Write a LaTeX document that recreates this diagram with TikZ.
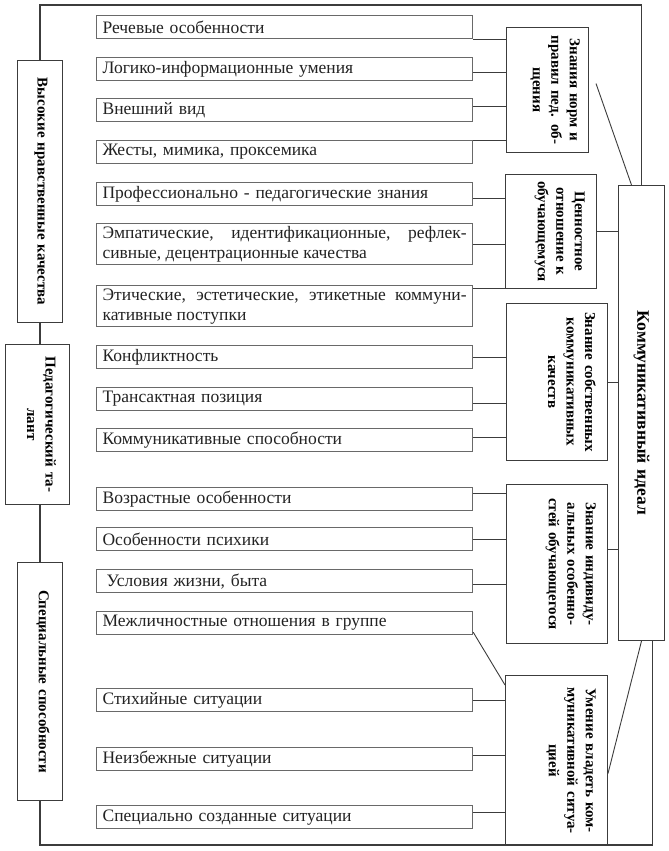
\documentclass[tikz,border=0pt]{standalone}
\usepackage{fontspec}
\setmainfont{Liberation Serif}
\usetikzlibrary{positioning,calc}
\definecolor{linegray}{RGB}{60,60,60}
\definecolor{itemgray}{RGB}{105,105,105}
\definecolor{txtgray}{RGB}{35,35,35}
\newcommand\itmfont{\fontsize{17.5}{20}\selectfont}
\newcommand\vbfont{\fontsize{15}{18.5}\selectfont\bfseries}
\newcommand\idlfont{\fontsize{17.5}{22}\selectfont\bfseries}
\tikzset{
  itembox/.style={draw=itemgray, line width=1.2pt, anchor=north west, minimum height=23pt,
                  text width=364pt, inner xsep=6pt, inner ysep=1pt, align=left,
                  font=\itmfont, text=txtgray},
  itembox2/.style={itembox, minimum height=41pt, align=justify},
  vbox/.style={draw=linegray, line width=1pt, anchor=north west},
  vtext/.style={rotate=-90, text width=250pt, align=center, font=\vbfont, inner sep=2pt, text=black},
  conn/.style={draw=linegray, line width=0.9pt},
  frame/.style={draw=linegray, line width=1.1pt},
}

\begin{document}
\begin{tikzpicture}[x=1pt, y=-1pt]
  \useasboundingbox[fill=white] (0,0) rectangle (669,851);
  % left column
  \node[vbox, minimum width=45pt, minimum height=262pt] (hk) at (17,60) {};
  \node[vbox, minimum width=64pt, minimum height=160pt] (pt) at (5,344) {};
  \node[vbox, minimum width=45pt, minimum height=238pt] (sp) at (17,562) {};
  \node[vtext] (hkt) at ([xshift=1pt]hk.center) {Высокие нравственные качества};
  \node[vtext] (ptt) at ([xshift=4pt]pt.center) {Педагогический та-\\лант};
  \node[vtext] (spt) at ([xshift=3pt]sp.center) {Специальные способности};

  % items
  \node[itembox] (i1) at (96,15) {Речевые особенности};
  \node[itembox] (i2) at (96,57) {Логико-информационные умения};
  \node[itembox] (i3) at (96,98) {Внешний вид};
  \node[itembox] (i4) at (96,140) {Жесты, мимика, проксемика};
  \node[itembox] (i5) at (96,182) {Профессионально - педагогические знания};
  \node[itembox2] (i6) at (96,223) {Эмпатические, идентификационные, рефлек-\linebreak сивные, децентрационные качества};
  \node[itembox2] (i7) at (96,285) {Этические, эстетические, этикетные коммуни-\linebreak кативные поступки};
  \node[itembox] (i8) at (96,345) {Конфликтность};
  \node[itembox] (i9) at (96,387) {Трансактная позиция};
  \node[itembox] (i10) at (96,428) {Коммуникативные способности};
  \node[itembox] (i11) at (96,487) {Возрастные особенности};
  \node[itembox] (i12) at (96,527) {Особенности психики};
  \node[itembox] (i13) at (96,569) {\hspace{4pt}Условия жизни, быта};
  \node[itembox] (i14) at (96,611) {Межличностные отношения в группе};
  \node[itembox] (i15) at (96,688) {Стихийные ситуации};
  \node[itembox] (i16) at (96,747) {Неизбежные ситуации};
  \node[itembox] (i17) at (96,805) {Специально созданные ситуации};

  % middle column
  \node[vbox, minimum width=82pt, minimum height=125pt] (nb) at (506,27) {};
  \node[vbox, minimum width=91pt, minimum height=114pt] (cen) at (505,174) {};
  \node[vbox, minimum width=101pt, minimum height=157pt] (sob) at (506,303) {};
  \node[vbox, minimum width=101pt, minimum height=159pt] (ind) at (506,484) {};
  \node[vbox, minimum width=102pt, minimum height=170pt] (um) at (505,675) {};
  \node[vtext, anchor=north] (nbt) at ([xshift=-7pt]nb.east) {Знания норм и\\правил пед. об-\\щения};
  \node[vtext, anchor=north] (cent) at ([xshift=-10pt]cen.east) {Ценностное\\отношение к\\обучающемуся};
  \node[vtext, anchor=north] (sobt) at ([xshift=-10pt]sob.east) {Знание собственных\\коммуникативных\\качеств};
  \node[vtext, anchor=north] (indt) at ([xshift=-10pt]ind.east) {Знание индивиду-\\альных особенно-\\стей обучающегося};
  \node[vtext, anchor=north] (umt) at ([xshift=-10pt]um.east) {Умение владеть ком-\\муникативной ситуа-\\цией};

  % right column
  \node[vbox, minimum width=46pt, minimum height=455pt] (ideal) at (618,185) {};
  \node[vtext, font=\idlfont] (idt) at (ideal.center) {Коммуникативный идеал};

  % item links
  \draw[conn] (i1.south east) -- (i1.south east -| nb.west);
  \draw[conn] ([yshift=-3.5pt]i2.east) -- ([yshift=-3.5pt]i2.east -| nb.west);
  \draw[conn] ([yshift=4pt]i3.east) -- ([yshift=4pt]i3.east -| nb.west);
  \draw[conn] (i4.north east) -- (i4.north east -| nb.west);
  \draw[conn] ([yshift=-4pt]i5.east) -- ([yshift=-4pt]i5.east -| cen.west);
  \draw[conn] (i6.east) -- (i6.east -| cen.west);
  \draw[conn] ([yshift=-3pt]i7.north east) -- ([yshift=-3pt]i7.north east -| cen.west);
  \draw[conn] (i8.east) -- (i8.east -| sob.west);
  \draw[conn] ([yshift=-4pt]i9.east) -- ([yshift=-4pt]i9.east -| sob.west);
  \draw[conn] ([yshift=3pt]i10.east) -- ([yshift=3pt]i10.east -| sob.west);
  \draw[conn] ([yshift=5.5pt]i11.east) -- ([yshift=5.5pt]i11.east -| ind.west);
  \draw[conn] (i12.east) -- (i12.east -| ind.west);
  \draw[conn] ([yshift=-3pt]i13.east) -- ([yshift=-3pt]i13.east -| ind.west);
  \draw[conn] ([yshift=3pt]i14.south east) -- ([yshift=-10pt]um.north west);
  \draw[conn] (i15.east) -- (i15.east -| um.west);
  \draw[conn] ([yshift=4pt]i16.east) -- ([yshift=4pt]i16.east -| um.west);
  \draw[conn] ([yshift=4.5pt]i17.east) -- ([yshift=4.5pt]i17.east -| um.west);

  % middle to ideal
  \draw[conn] (cen.east) -- (cen.east -| ideal.west);
  \draw[conn] (sob.east) -- (sob.east -| ideal.west);
  \draw[conn] ([yshift=14.5pt]ind.east) -- ([yshift=14.5pt]ind.east -| ideal.west);
  \draw[conn] ([shift={(7pt,6.5pt)}]nb.east) -- ([xshift=-10pt]ideal.north);
  \draw[conn] (ideal.south) -- ([yshift=-13pt]um.east);

  % outer frame
  \coordinate (top) at (0,5);
  \coordinate (bot) at (0,845);
  \draw[frame] (hk.north) -- (hk.north |- top) -| (ideal.north);
  \draw[frame] (hk.south) -- (hk.south |- pt.north);
  \draw[frame] (pt.south -| hk.south) -- (sp.north);
  \draw[frame] (sp.south) -- (sp.south |- bot) -| ([xshift=11pt]ideal.south);
\end{tikzpicture}
\end{document}
